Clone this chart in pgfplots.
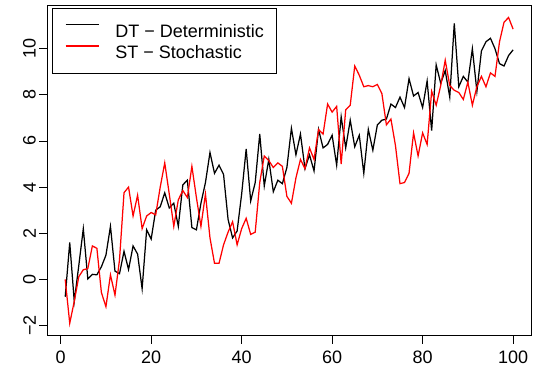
\documentclass[border=0pt]{standalone}
\usepackage{fontspec}
\setmainfont{Liberation Sans}
\usepackage{pgfplots}
\usepackage{pgfplotstable}
\pgfplotsset{compat=1.18}
\pgfplotstableread{
x dt st
1 -0.75 0.0
2 1.6 -1.9
3 -0.95 -0.95
4 0.6 0.12
5 2.2 0.42
6 0.02 0.47
7 0.22 1.45
8 0.2 1.35
9 0.55 -0.57
10 1.05 -1.18
11 2.3 0.2
12 0.36 -0.68
13 0.25 0.85
14 1.22 3.76
15 0.43 4.0
16 1.45 2.75
17 1.1 3.65
18 -0.4 2.2
19 2.15 2.75
20 1.75 2.9
21 3.0 2.8
22 3.15 4.0
23 3.75 5.05
24 3.1 3.7
25 3.3 2.3
26 2.3 3.45
27 4.1 3.85
28 4.3 3.55
29 2.25 4.9
30 2.15 3.55
31 3.3 2.3
32 4.2 3.7
33 5.5 1.8
34 4.6 0.7
35 4.95 0.7
36 4.55 1.5
37 2.6 2.05
38 1.8 2.5
39 2.1 1.5
40 3.7 2.2
41 5.65 2.65
42 3.4 1.95
43 4.2 2.05
44 6.3 4.2
45 4.05 5.35
46 5.2 5.15
47 3.8 4.85
48 4.3 5.05
49 4.15 4.9
50 4.85 3.6
51 6.55 3.3
52 5.4 4.4
53 6.3 5.2
54 4.8 4.8
55 5.4 5.7
56 4.7 5.2
57 6.5 6.5
58 5.7 6.3
59 5.85 7.6
60 6.25 7.25
61 4.95 7.5
62 7.05 5.0
63 5.7 7.35
64 6.9 7.55
65 5.75 9.25
66 6.25 8.85
67 4.6 8.35
68 6.5 8.4
69 5.6 8.35
70 6.7 8.45
71 6.9 8.05
72 6.95 6.7
73 7.6 6.95
74 7.45 5.8
75 7.9 4.15
76 7.45 4.2
77 8.7 4.6
78 7.95 6.35
79 8.1 5.35
80 7.45 6.35
81 8.6 5.85
82 6.45 8.15
83 9.3 7.55
84 8.5 8.4
85 9.05 9.5
86 7.9 8.4
87 11.1 8.2
88 8.35 8.1
89 8.8 7.8
90 8.55 8.55
91 10.0 7.55
92 8.15 8.35
93 9.9 8.8
94 10.3 8.35
95 10.45 8.95
96 10.0 8.8
97 9.35 10.3
98 9.25 11.15
99 9.7 11.35
100 9.95 10.85
}\data
\begin{document}
\begin{tikzpicture}
\useasboundingbox (-47.3bp,-33.5bp) rectangle (489.7bp,335.5bp);
\begin{axis}[
  scale only axis,
  width=483.7bp, height=330.2bp,
  xmin=-2.96, xmax=103.96, ymin=-2.43, ymax=11.88,
  axis line style={line width=0.8bp},
  tick align=outside, major tick length=8bp,
  tick style={line width=0.8bp, black},
  xtick={0,20,40,60,80,100}, xticklabels={0,20,40,60,80,100},
  ytick={-2,0,2,4,6,8,10}, yticklabels={−2,0,2,4,6,8,10},
  xtick pos=lower, ytick pos=left,
  ticklabel style={font=\fontsize{18bp}{18bp}\selectfont},
  xticklabel shift=4bp,
  yticklabel style={rotate=90, anchor=south},
  legend cell align=left,
  legend image code/.code={\path (0bp,0bp); \draw[#1] (0bp,6.45bp) -- (33bp,6.45bp);},
  legend style={at={(axis description cs:0.009,0.991)}, anchor=north west,
    draw=black, line width=0.8bp, inner xsep=13bp, inner ysep=15bp,
    font=\fontsize{18bp}{21bp}\selectfont, row sep=8.1bp, column sep=0bp,
    nodes={inner sep=0pt, text height=12.9bp, text depth=0pt}},
]
\addplot[black, line width=1.25bp, no marks] table[x=x, y=dt] {\data};
\addlegendentry{\hspace{16bp}DT − Deterministic\hspace{3bp}}
\addplot[red, line width=1.25bp, no marks] table[x=x, y=st] {\data};
\addlegendentry{\hspace{16bp}ST − Stochastic}
\end{axis}
\end{tikzpicture}
\end{document}
